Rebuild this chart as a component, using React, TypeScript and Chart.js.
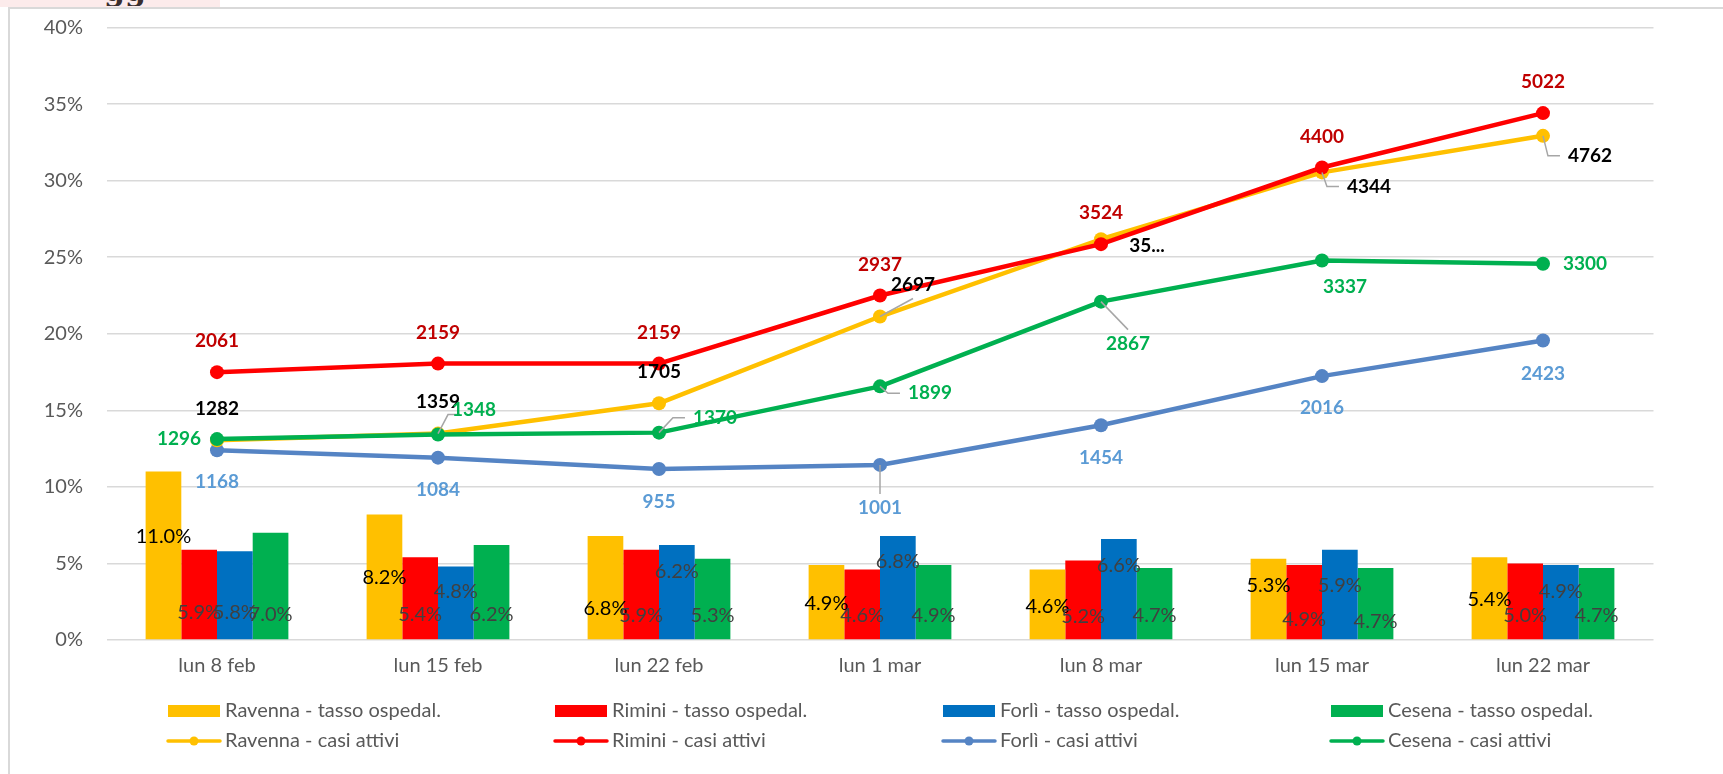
import React, { useEffect, useRef } from 'react';
import { Chart, registerables } from 'chart.js';

Chart.register(...registerables);

// ---------- data ----------
const categories = ['lun 8 feb', 'lun 15 feb', 'lun 22 feb', 'lun 1 mar', 'lun 8 mar', 'lun 15 mar', 'lun 22 mar'];

const ravennaRate = [11.0, 8.2, 6.8, 4.9, 4.6, 5.3, 5.4];
const riminiRate = [5.9, 5.4, 5.9, 4.6, 5.2, 4.9, 5.0];
const forliRate = [5.8, 4.8, 6.2, 6.8, 6.6, 5.9, 4.9];
const cesenaRate = [7.0, 6.2, 5.3, 4.9, 4.7, 4.7, 4.7];

const ravennaCases = [1282, 1359, 1705, 2697, 3580, 4344, 4762];
const riminiCases = [2061, 2159, 2159, 2937, 3524, 4400, 5022];
const forliCases = [1168, 1084, 955, 1001, 1454, 2016, 2423];
const cesenaCases = [1296, 1348, 1370, 1899, 2867, 3337, 3300];

// label text shown truncated in the original (Ravenna, lun 8 mar)
const ravennaLabelText = [null, null, null, null, '35...', null, null];

const rateMin = 0;
const rateMax = 40;
const rateStep = 5;
const casesMin = -1000;
const casesMax = 6000;

const seriesNames = ['Ravenna', 'Rimini', 'Forlì', 'Cesena'];

// ---------- styles ----------
const barColors = ['#FFC000', '#FF0000', '#0070C0', '#00B050'];
const lineColors = ['#FFC000', '#FF0000', '#5584C4', '#00B050'];
const lineLabelColors = ['#000000', '#C00000', '#5B9BD5', '#00B050'];
const barLabelColors = ['#000000', '#404040', '#404040', '#404040'];

// bar label lift above base (px)
const barLabelLift = [
  [103, 62, 31, 36, 33, 54, 40],
  [27, 25, 24, 24, 23, 20, 24],
  [27, 48, 68, 78, 74, 54, 48],
  [25, 25, 24, 24, 24, 18, 24],
];
// line label offsets from point (px)
const lineLabelDx = [
  [0, 0, 0, 33, 46, 47, 47],
  [0, 0, 0, 0, 0, 0, 0],
  [0, 0, 0, 0, 0, 0, 0],
  [-38, 36, 56, 50, 27, 23, 42],
];
const lineLabelDy = [
  [-31, -32, -31, -32, 7, 14, 20],
  [-31, -31, -31, -31, -31, -31, -31],
  [32, 32, 33, 43, 33, 32, 33],
  [0, -25, -15, 7, 42, 26, 0],
];
const lineLeaders = [
  [null, 'bottomRight', null, 'bottom', null, 'left', 'left'],
  [null, null, null, null, null, null, null],
  [null, null, null, 'top', null, null, null],
  [null, null, 'left', 'left', 'top', null, null],
];

const FONT = 'Lato, "Open Sans", sans-serif';
const GRAY_TEXT = '#595959';

const labelsPlugin = {
  id: 'customLabels',
  afterDatasetsDraw(chart: any) {
    const ctx = chart.ctx;
    const yScale = chart.scales.y;
    const base = yScale.getPixelForValue(0);
    ctx.save();
    // bar labels
    ctx.font = `20px ${FONT}`;
    ctx.textAlign = 'center';
    ctx.textBaseline = 'middle';
    for (let s = 0; s < 4; s++) {
      const meta = chart.getDatasetMeta(s);
      const vals = chart.data.datasets[s].data;
      meta.data.forEach((el: any, j: number) => {
        ctx.fillStyle = barLabelColors[s];
        ctx.fillText(vals[j].toFixed(1) + '%', el.x, base - barLabelLift[s][j]);
      });
    }
    // line labels
    ctx.font = `bold 19px ${FONT}`;
    for (let s = 0; s < 4; s++) {
      const meta = chart.getDatasetMeta(4 + s);
      const vals = chart.data.datasets[4 + s].data;
      meta.data.forEach((el: any, j: number) => {
        let text = String(vals[j]);
        if (s === 0 && ravennaLabelText[j]) text = ravennaLabelText[j] as string;
        const cx = el.x + lineLabelDx[s][j];
        const cy = el.y + lineLabelDy[s][j];
        const w = ctx.measureText(text).width;
        const L = cx - w / 2;
        const kind = lineLeaders[s][j];
        if (kind) {
          ctx.strokeStyle = '#A6A6A6';
          ctx.lineWidth = 1.5;
          ctx.beginPath();
          ctx.moveTo(el.x, el.y);
          if (kind === 'left') {
            ctx.lineTo(Math.max(el.x, L - 20), cy);
            ctx.lineTo(L - 8, cy);
          } else if (kind === 'top') {
            ctx.lineTo(cx, cy - 14);
          } else if (kind === 'bottom') {
            ctx.lineTo(cx, cy + 14);
          } else if (kind === 'bottomRight') {
            ctx.lineTo(cx + 10, cy + 13);
            ctx.lineTo(cx + 22, cy + 13);
          }
          ctx.stroke();
        }
        ctx.fillStyle = lineLabelColors[s];
        ctx.fillText(text, cx, cy);
      });
    }
    ctx.restore();
  },
};

const legendPlugin = {
  id: 'customLegend',
  afterDraw(chart: any) {
    const ctx = chart.ctx;
    const colX = [168, 555, 943, 1331];
    const rowY = [711, 741];
    ctx.save();
    ctx.font = `20px ${FONT}`;
    ctx.textAlign = 'left';
    ctx.textBaseline = 'middle';
    chart.data.datasets.forEach((ds: any, i: number) => {
      const row = i < 4 ? 0 : 1;
      const col = i % 4;
      const x = colX[col];
      const y = rowY[row];
      if (row === 0) {
        ctx.fillStyle = ds.backgroundColor;
        ctx.fillRect(x, y - 6, 52, 12);
      } else {
        ctx.strokeStyle = ds.borderColor;
        ctx.lineWidth = 3.5;
        ctx.lineCap = 'round';
        ctx.beginPath();
        ctx.moveTo(x, y);
        ctx.lineTo(x + 52, y);
        ctx.stroke();
        ctx.fillStyle = ds.borderColor;
        ctx.beginPath();
        ctx.arc(x + 26, y, 4.5, 0, Math.PI * 2);
        ctx.fill();
      }
      ctx.fillStyle = GRAY_TEXT;
      ctx.fillText(ds.label, x + 57, y);
    });
    ctx.restore();
  },
};

export default function App() {
  const canvasRef = useRef<HTMLCanvasElement | null>(null);

  useEffect(() => {
    document.body.style.overflow = 'hidden';
    Chart.defaults.font.family = FONT;
    const rates = [ravennaRate, riminiRate, forliRate, cesenaRate];
    const cases = [ravennaCases, riminiCases, forliCases, cesenaCases];
    const lineOrder = [3, 1, 4, 2];
    const datasets: any[] = [];
    rates.forEach((r, i) => {
      datasets.push({
        type: 'bar',
        label: `${seriesNames[i]} - tasso ospedal.`,
        data: r,
        backgroundColor: barColors[i],
        borderWidth: 0,
        yAxisID: 'y',
        order: 10 + i,
        categoryPercentage: 0.646,
        barPercentage: 1.0,
      });
    });
    cases.forEach((c, i) => {
      datasets.push({
        type: 'line',
        label: `${seriesNames[i]} - casi attivi`,
        data: c,
        borderColor: lineColors[i],
        backgroundColor: lineColors[i],
        pointBackgroundColor: lineColors[i],
        pointBorderWidth: 0,
        pointRadius: 7,
        borderWidth: 4.5,
        borderJoinStyle: 'round',
        borderCapStyle: 'round',
        tension: 0,
        fill: false,
        yAxisID: 'y2',
        order: lineOrder[i],
      });
    });

    const chart = new Chart(canvasRef.current as HTMLCanvasElement, {
      type: 'bar',
      data: { labels: categories, datasets },
      options: {
        animation: false,
        responsive: false,
        events: [],
        layout: { padding: { left: 0, right: 69.5, top: 27.5, bottom: 0 } },
        plugins: {
          legend: { display: false },
          tooltip: { enabled: false },
        },
        scales: {
          x: {
            grid: { display: false, drawTicks: false },
            border: { display: false },
            ticks: { color: GRAY_TEXT, font: { size: 20, family: FONT }, padding: 14 },
            afterFit(scale: any) {
              scale.height = 134;
            },
          },
          y: {
            position: 'left',
            min: rateMin,
            max: rateMax,
            ticks: {
              stepSize: rateStep,
              color: GRAY_TEXT,
              font: { size: 20, family: FONT },
              padding: 23.5,
              callback: (v: any) => `${v}%`,
            },
            grid: { color: '#D9D9D9', lineWidth: 1.5, drawTicks: false },
            border: { display: false },
            afterFit(scale: any) {
              scale.width = 106.5;
              scale.paddingTop = 0;
              scale.paddingBottom = 0;
            },
          },
          y2: {
            display: false,
            min: casesMin,
            max: casesMax,
          },
        },
      },
      plugins: [labelsPlugin, legendPlugin],
    } as any);
    return () => chart.destroy();
  }, []);

  return (
    <>
      <div style={{ position: 'absolute', left: 0, top: 0, width: 220, height: 7, background: '#FCEBEB' }} />
      <div style={{ position: 'absolute', left: 104, top: 0, width: 56, height: 6, overflow: 'hidden' }}>
        <div style={{ position: 'absolute', left: 0, top: -24, font: 'bold 30px "DejaVu Serif", serif', color: '#3A2E2E', lineHeight: '30px' }}>gg</div>
      </div>
      <div
        style={{
          position: 'absolute',
          left: 8,
          top: 7,
          width: 1713,
          height: 765,
          borderLeft: '2px solid #D9D9D9',
          borderTop: '2px solid #D9D9D9',
        }}
      />
      <div style={{ position: 'absolute', left: 0, top: 0, width: 1723, height: 774 }}>
        <canvas ref={canvasRef} width={1723} height={774} />
      </div>
    </>
  );
}
